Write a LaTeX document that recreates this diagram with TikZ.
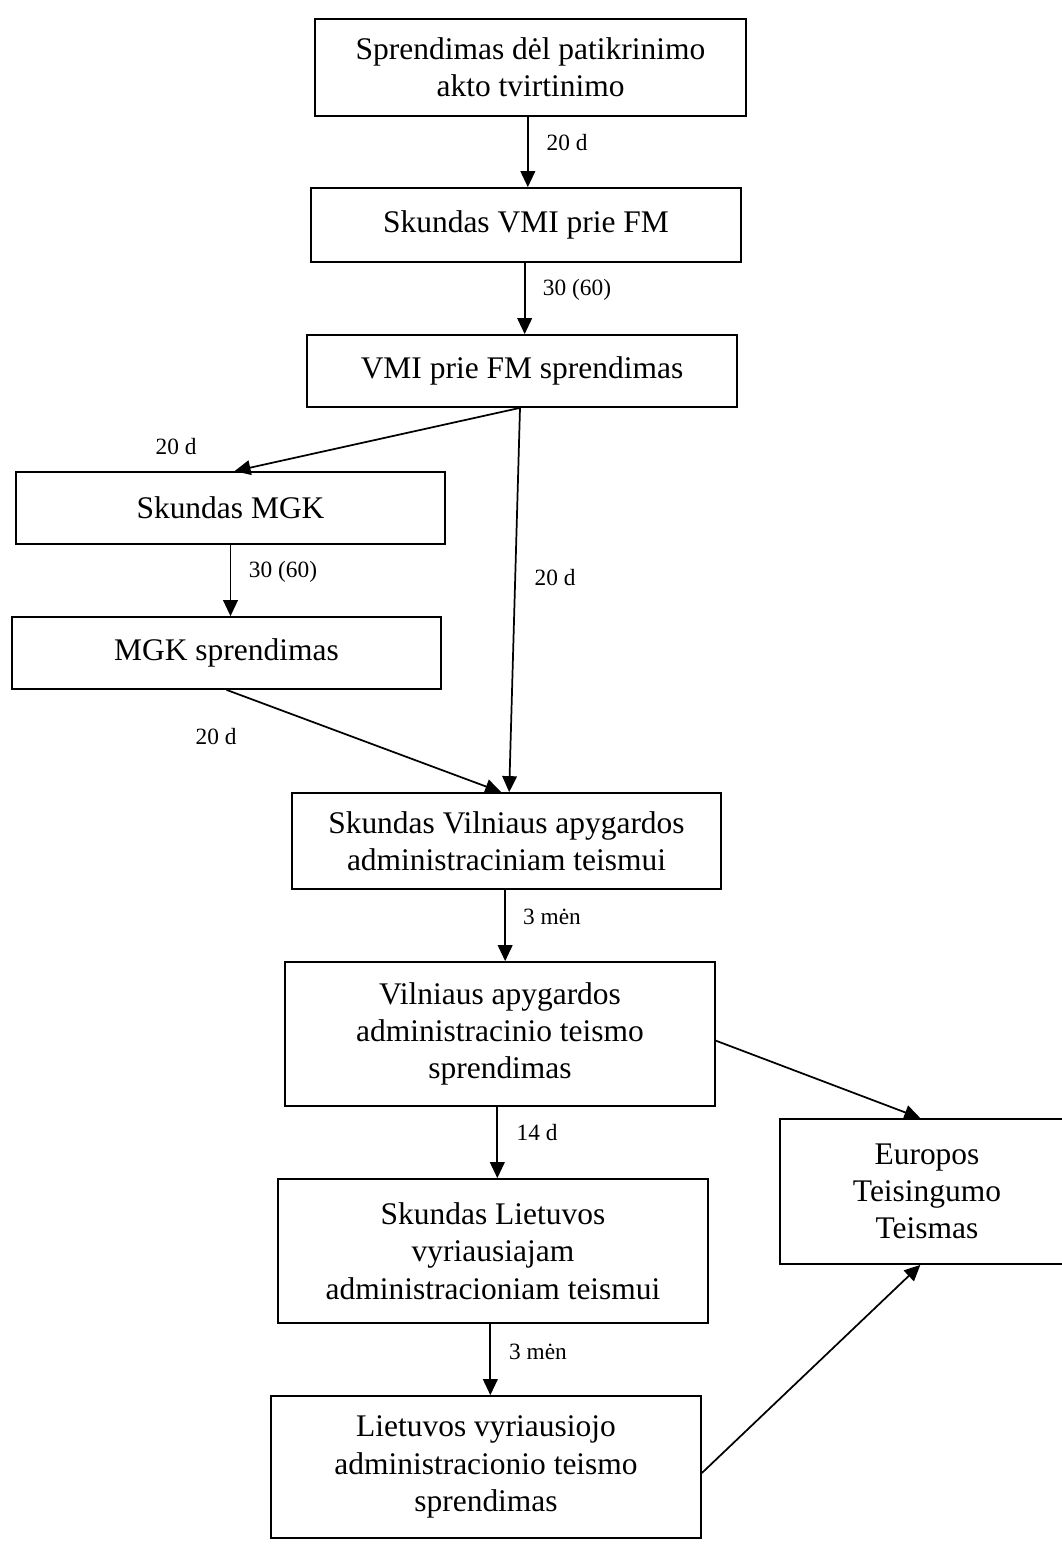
\documentclass[tikz,border=0pt]{standalone}
\usepackage{fontspec}
\setmainfont{Liberation Serif}
\usetikzlibrary{arrows.meta,calc}
\newcommand\bxfont{\fontsize{23.6pt}{28pt}\selectfont}
\newcommand\lbfont{\fontsize{17.5pt}{20pt}\selectfont}
\begin{document}
\begin{tikzpicture}[x=0.75pt,y=-0.75pt,
  flowbox/.style={draw,line width=1.3pt,inner sep=0pt,align=center,font=\bxfont},
  lbl/.style={inner sep=0pt,font=\lbfont},
  arr/.style={line width=1.3pt,-{Triangle[length=12pt,width=11pt]}}]
\fill[white] (0,0) rectangle (1062,1544);
\path[use as bounding box] (0,0) rectangle (1062,1544);
\clip (0,0) rectangle (1062,1544);

\node[flowbox,minimum width=323pt,minimum height=72.75pt] (b1) at (530.5,67.5) {Sprendimas dėl patikrinimo\\akto tvirtinimo};
\node[flowbox,minimum width=322.5pt,minimum height=55.5pt] (b2) at (526,225) {Skundas VMI prie FM};
\node[flowbox,minimum width=322.5pt,minimum height=54pt] (b3) at (522,371) {VMI prie FM sprendimas};
\node[flowbox,minimum width=322pt,minimum height=54pt] (b4) at (230.5,508) {Skundas MGK};
\node[flowbox,minimum width=322pt,minimum height=54pt] (b5) at (226.5,653) {MGK sprendimas};
\node[flowbox,minimum width=322pt,minimum height=72pt] (b6) at (506.5,841) {Skundas Vilniaus apygardos\\administraciniam teismui};
\node[flowbox,minimum width=322.5pt,minimum height=108pt] (b7) at (500,1034) {Vilniaus apygardos\\administracinio teismo\\sprendimas};
\node[flowbox,minimum width=322.5pt,minimum height=108pt] (b8) at (493,1251) {Skundas Lietuvos\\vyriausiajam\\administracioniam teismui};
\node[flowbox,minimum width=322.5pt,minimum height=106.5pt] (b9) at (486,1467) {Lietuvos vyriausiojo\\administracionio teismo\\sprendimas};
\node[flowbox,minimum width=220.5pt,minimum height=108.75pt] (b10) at (927,1191.5) {Europos\\Teisingumo\\Teismas};

\draw[arr] ([xshift=-2pt]b1.south) -- ([xshift=-2pt]b1.south |- b2.north);
\draw[arr] ([xshift=-1pt]b2.south) -- ([xshift=-1pt]b2.south |- b3.north);
\draw[arr] ([xshift=-1.5pt]b3.south) -- ([xshift=3pt]b4.north);
\draw[arr] ([xshift=-1.5pt]b3.south) -- ([xshift=2pt]b6.north);
\draw[arr] (b4.south) -- (b4.south |- b5.north);
\draw[arr] (b5.south) -- ([xshift=-4pt]b6.north);
\draw[arr] ([xshift=-1pt]b6.south) -- ([xshift=-1pt]b6.south |- b7.north);
\draw[arr] ([xshift=-2pt]b7.south) -- ([xshift=-2pt]b7.south |- b8.north);
\draw[arr] ([xshift=-2pt]b8.south) -- ([xshift=-2pt]b8.south |- b9.north);
\draw[arr] ([yshift=-5pt]b7.east) -- ([xshift=-5pt]b10.north);
\draw[arr] ([yshift=-4.5pt]b9.east) -- ([xshift=-5pt]b10.south);

\node[lbl] (l1) at (567,143) {20 d};
\node[lbl] (l2) at (577,290) {30 (60)};
\node[lbl] (l3) at (176,447) {20 d};
\node[lbl] (l4) at (283,572) {30 (60)};
\node[lbl] (l5) at (555,578) {20 d};
\node[lbl] (l6) at (216,737) {20 d};
\node[lbl] (l7) at (552,917) {3 mėn};
\node[lbl] (l8) at (537,1133) {14 d};
\node[lbl] (l9) at (538,1352) {3 mėn};
\end{tikzpicture}
\end{document}
